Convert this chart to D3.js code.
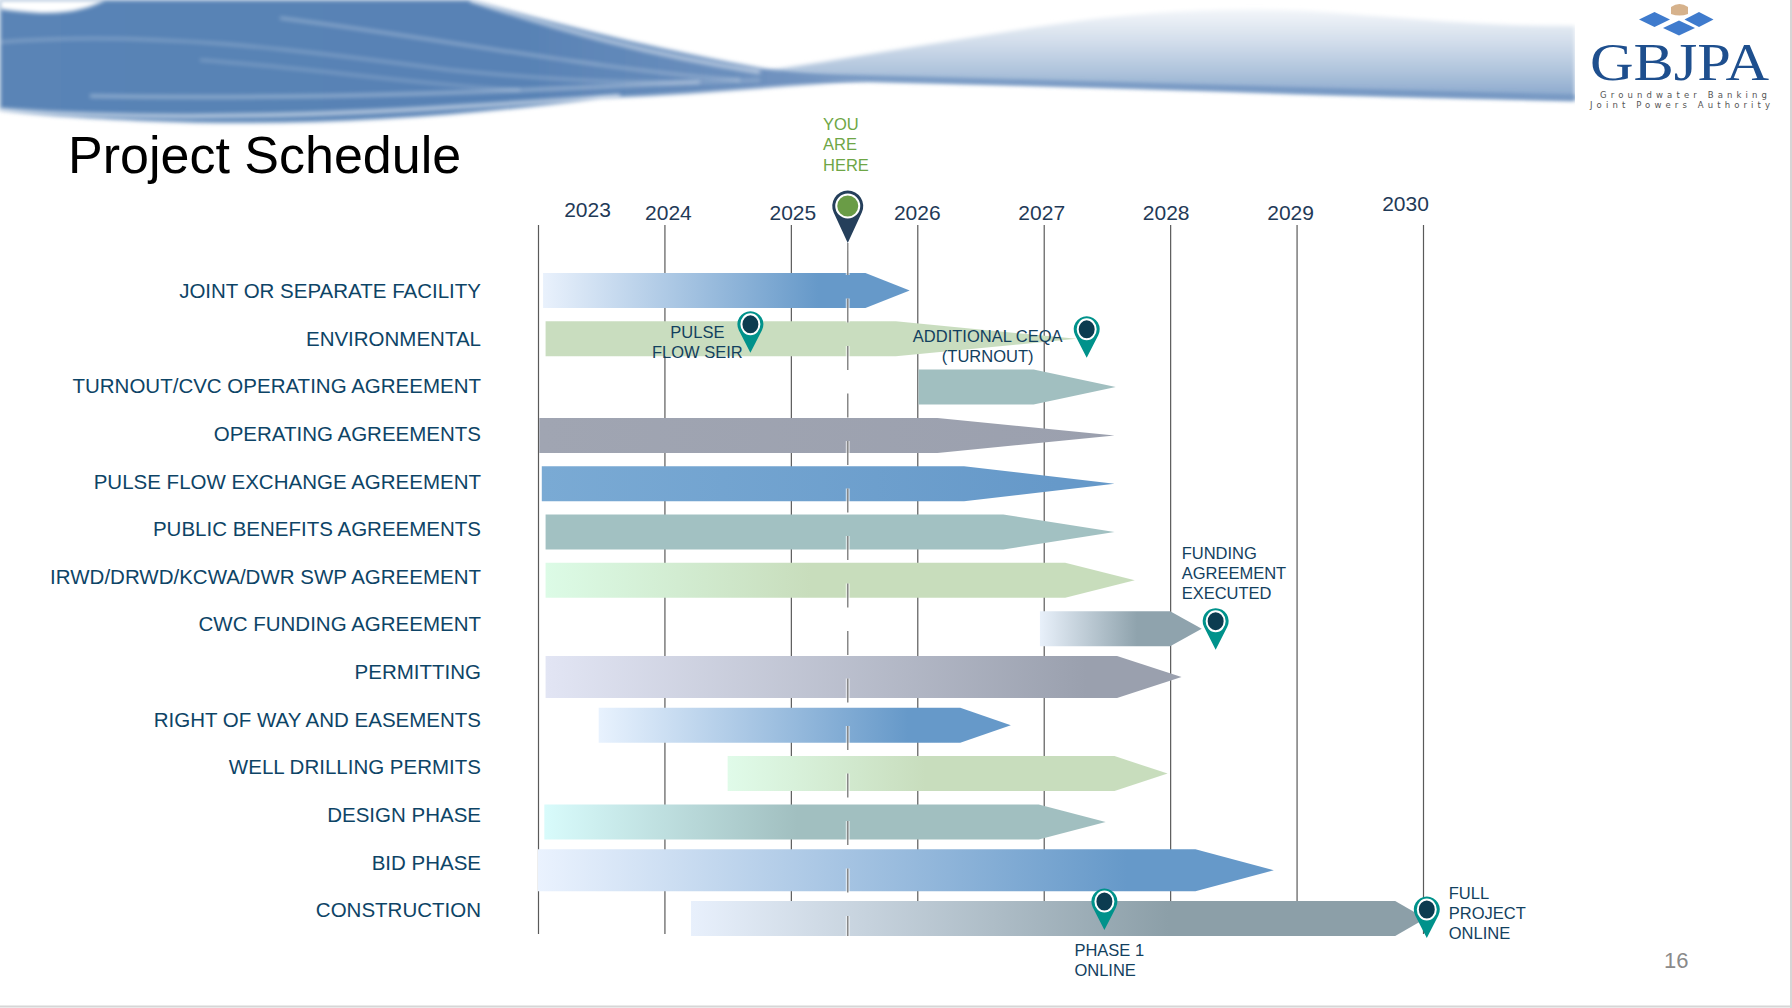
<!DOCTYPE html>
<html>
<head>
<meta charset="utf-8">
<script src="https://cdn.jsdelivr.net/npm/d3@7"></script>
<style>
  body { margin: 0; background: #fff; overflow: hidden; }
  svg { display: block; }
</style>
</head>
<body>
<div class="schedule"></div>
<script>
const width = 1792;
const height = 1008;

// ---- chart data (years) ----
const tasks = [
    "JOINT OR SEPARATE FACILITY", "ENVIRONMENTAL", "TURNOUT/CVC OPERATING AGREEMENT",
    "OPERATING AGREEMENTS", "PULSE FLOW EXCHANGE AGREEMENT", "PUBLIC BENEFITS AGREEMENTS",
    "IRWD/DRWD/KCWA/DWR SWP AGREEMENT", "CWC FUNDING AGREEMENT", "PERMITTING",
    "RIGHT OF WAY AND EASEMENTS", "WELL DRILLING PERMITS", "DESIGN PHASE", "BID PHASE", "CONSTRUCTION"
];
const startYear = [2023.04, 2023.06, 2026.01, 2023.01, 2023.03, 2023.06, 2023.06, 2026.97, 2023.06, 2023.48, 2024.50, 2023.05, 2023.00, 2024.21];
const taperYear = [2025.59, 2025.83, 2026.92, 2026.16, 2026.37, 2026.68, 2027.17, 2028.00, 2027.58, 2026.34, 2027.56, 2026.96, 2028.20, 2029.78];
const endYear   = [2025.94, 2027.26, 2027.57, 2027.56, 2027.56, 2027.56, 2027.72, 2028.25, 2028.09, 2026.74, 2027.98, 2027.49, 2028.82, 2030.02];
const years = [2023, 2024, 2025, 2026, 2027, 2028, 2029, 2030];
const todayYear = 2025.45;
const todayText = ["YOU", "ARE", "HERE"];
const milestoneText = [["PULSE", "FLOW SEIR"], ["ADDITIONAL CEQA", "(TURNOUT)"], ["FUNDING", "AGREEMENT", "EXECUTED"], ["PHASE 1", "ONLINE"], ["FULL", "PROJECT", "ONLINE"]];
const milestoneYear = [2024.68, 2027.34, 2028.36, 2027.48, 2030.03];
const milestoneTask = [1, 1, 7, 13, 13];

// ---- styles ----
const barFrom = ["#e9f1fc", "#c9ddbf", "#a1bfc0", "#a0a5b2", "#7aaad4", "#a2c1c2", "#dcfbe6", "#e8f0fa", "#e2e5f4", "#e8f2fe", "#e0fbe9", "#d8fbfb", "#eaf2fe", "#e8f0fc"];
const barTo   = ["#6699c9", "#c9ddbf", "#a1bfc0", "#9ba0ae", "#6699c9", "#a2c1c2", "#c8ddbc", "#8fa3ad", "#9aa0ae", "#6699c9", "#c8ddbd", "#a1bfc0", "#6699c9", "#8c9fa8"];
const barStop = [0.75, 1, 1, 1, 0.9, 1, 0.45, 0.6, 0.85, 0.75, 0.45, 0.45, 0.8, 0.65];
const pinNote = [
    { dx: -53, dy: -21, anchor: "middle", tip: 14 },
    { dx: -99, dy: -22, anchor: "middle", tip: 19 },
    { dx: -34, dy: -96, anchor: "start", tip: 21 },
    { dx: -30, dy: 20, anchor: "start", tip: 11.5 },
    { dx: 22, dy: -45, anchor: "start", tip: 19.5 }
];
const navy = "#0d4466";
const font = "Liberation Sans, Arial, sans-serif";

const svg = d3.select(".schedule")
    .append("svg")
    .attr("width", width)
    .attr("height", height);
const defs = svg.append("defs");

// ---- banner (water swoosh) ----
defs.append("filter").attr("id", "soft").attr("x", "-5%").attr("y", "-50%").attr("width", "110%").attr("height", "200%")
    .append("feGaussianBlur").attr("stdDeviation", 2);
const waveLeft = defs.append("linearGradient").attr("id", "waveLeft");
[[0, "#5a84b6"], [0.6, "#5882b5"], [1, "#7898c3"]]
    .forEach(s => waveLeft.append("stop").attr("offset", s[0]).attr("stop-color", s[1]));
const waveRight = defs.append("linearGradient").attr("id", "waveRight")
    .attr("x1", 0).attr("y1", 0).attr("x2", 0).attr("y2", 1);
[[0, "#f3f6fa"], [0.35, "#d3deeb"], [0.7, "#adc2db"], [1, "#86a5cb"]]
    .forEach(s => waveRight.append("stop").attr("offset", s[0]).attr("stop-color", s[1]));

const banner = svg.append("g");
banner.append("path")
    .attr("d", "M760,72 C850,58 950,40 1050,25 C1150,10 1250,5 1350,14 C1450,22 1500,26 1575,26 V100 C1450,98 1350,96 1250,92 C1100,86 950,82 760,80 Z")
    .attr("fill", "url(#waveRight)")
    .attr("filter", "url(#soft)");
banner.append("path")
    .attr("d", "M780,76 C950,80 1200,90 1575,98")
    .attr("fill", "none").attr("stroke", "#6f93c0").attr("stroke-width", 5)
    .attr("filter", "url(#soft)");
banner.append("path")
    .attr("d", "M0,0 H470 C560,25 660,50 760,68 C800,74 830,78 870,80 C780,86 700,94 600,98 C450,118 300,127 150,121 C80,118 30,114 0,110 Z")
    .attr("fill", "url(#waveLeft)")
    .attr("filter", "url(#soft)");
[
    ["M470,0 C560,30 650,55 760,72", 4, 0.55],
    ["M280,18 C450,40 600,70 740,80", 2, 0.45],
    ["M0,42 C150,30 300,50 450,70 C550,80 650,86 760,80", 2, 0.35],
    ["M90,96 C300,100 500,92 700,82", 3, 0.4],
    ["M0,110 C200,124 400,112 620,96", 4, 0.6],
    ["M200,60 C330,70 420,85 520,90", 2, 0.3]
].forEach(s => banner.append("path").attr("d", s[0]).attr("fill", "none")
    .attr("stroke", "#ffffff").attr("stroke-width", s[1]).attr("opacity", s[2]).attr("filter", "url(#soft)"));
banner.append("path")
    .attr("d", "M0,0 H105 C90,8 70,14 40,13 C20,12 8,10 0,9 Z")
    .attr("fill", "#ffffff").attr("filter", "url(#soft)");
banner.append("rect").attr("x", 1575).attr("y", 0).attr("width", 217).attr("height", 130).attr("fill", "#fff");

// ---- logo ----
const logo = svg.append("g");
[[1654.5, 19.5, 15.5, 7.5], [1699, 19.5, 14.5, 7.5], [1679, 28, 16, 7.5]].forEach(d => {
    logo.append("path")
        .attr("d", `M${d[0] - d[2]},${d[1]} L${d[0]},${d[1] - d[3]} L${d[0] + d[2]},${d[1]} L${d[0]},${d[1] + d[3]} Z`)
        .attr("fill", "#3f7bcd");
});
logo.append("path")
    .attr("d", "M1671,7 Q1679.5,1 1688,7 V14 Q1679.5,17 1671,14 Z")
    .attr("fill", "#d6b28c");
logo.append("text")
    .attr("x", 1590).attr("y", 80)
    .attr("textLength", 179).attr("lengthAdjust", "spacingAndGlyphs")
    .attr("font-family", "Liberation Serif, DejaVu Serif, serif")
    .attr("font-size", 52)
    .attr("fill", "#1e4f8e")
    .text("GBJPA");
logo.append("text")
    .attr("x", 1600).attr("y", 98).attr("textLength", 167).attr("lengthAdjust", "spacing")
    .attr("font-family", "DejaVu Sans, sans-serif").attr("font-size", 8.5).attr("fill", "#555")
    .text("Groundwater Banking");
logo.append("text")
    .attr("x", 1590).attr("y", 108).attr("textLength", 180).attr("lengthAdjust", "spacing")
    .attr("font-family", "DejaVu Sans, sans-serif").attr("font-size", 8.5).attr("fill", "#555")
    .text("Joint Powers Authority");

// ---- title ----
svg.append("text")
    .attr("x", 68).attr("y", 173)
    .attr("font-family", font)
    .attr("font-size", 52)
    .attr("fill", "#000")
    .text("Project Schedule");

// ---- scales ----
const x = d3.scaleLinear().domain([2023, 2030]).range([538, 1423]);
const yLabel = d3.scalePoint().domain(tasks).range([291, 910]);
const yBar = d3.scalePoint().domain(tasks).range([290.5, 918.5]);
const barH = name => (name === "PERMITTING" || name === "BID PHASE") ? 42 : 35;

// ---- year axis with long grid lines ----
const axis = svg.append("g")
    .attr("transform", "translate(0,225)")
    .call(d3.axisTop(x)
        .tickValues(years)
        .tickFormat(d3.format("d"))
        .tickSize(-(934 - 225))
        .tickPadding(5.5));
axis.select(".domain").remove();
axis.selectAll(".tick line").attr("stroke", "#5a5a5a").attr("stroke-width", 1.2);
axis.selectAll(".tick text")
    .attr("font-family", font)
    .attr("font-size", 21)
    .attr("fill", "#1f3a57")
    .attr("dx", d => d === 2023 ? 49 : d === 2030 ? -18 : (2026.5 - d) * 2 - 1.5)
    .attr("dy", d => d === 2030 ? -9 : d === 2023 ? -3 : 0);

// ---- task labels ----
svg.append("g")
    .selectAll(".label")
    .data(tasks)
    .enter()
    .append("text")
    .attr("class", "label")
    .attr("x", 481)
    .attr("y", d => yLabel(d))
    .attr("dy", "0.35em")
    .attr("text-anchor", "end")
    .attr("font-family", font)
    .attr("font-size", 20.5)
    .attr("fill", navy)
    .text(d => d);

// ---- arrow bars ----
tasks.forEach((t, i) => {
    const g = defs.append("linearGradient").attr("id", "bar" + i);
    g.append("stop").attr("offset", 0).attr("stop-color", barFrom[i]);
    g.append("stop").attr("offset", barStop[i]).attr("stop-color", barTo[i]);
    g.append("stop").attr("offset", 1).attr("stop-color", barTo[i]);
});

svg.append("g")
    .selectAll(".bar")
    .data(tasks)
    .enter()
    .append("path")
    .attr("class", "bar")
    .attr("d", (d, i) => {
        const y0 = yBar(d) - barH(d) / 2, y1 = yBar(d) + barH(d) / 2;
        return `M${x(startYear[i])},${y0} L${x(taperYear[i])},${y0} L${x(endYear[i])},${yBar(d)} L${x(taperYear[i])},${y1} L${x(startYear[i])},${y1} Z`;
    })
    .attr("fill", (d, i) => `url(#bar${i})`);

// ---- "you are here" ----
const tx = x(todayYear);
svg.append("line")
    .attr("x1", tx).attr("x2", tx).attr("y1", 243).attr("y2", 251)
    .attr("stroke", "#8c8c8c").attr("stroke-width", 1.5);
svg.append("line")
    .attr("x1", tx).attr("x2", tx).attr("y1", 251).attr("y2", 936)
    .attr("stroke", "#ffffff").attr("stroke-opacity", 0.6).attr("stroke-width", 4)
    .attr("stroke-dasharray", "24 23.5");
svg.append("line")
    .attr("x1", tx).attr("x2", tx).attr("y1", 251).attr("y2", 936)
    .attr("stroke", "#888888").attr("stroke-width", 1.5)
    .attr("stroke-dasharray", "24 23.5");

function pinPath(r, dist) {
    const px = r * Math.sqrt(1 - (r / dist) * (r / dist));
    const py = -dist + r * r / dist;
    return `M0,0 L${-px},${py} A${r},${r} 0 1 1 ${px},${py} Z`;
}

const here = svg.append("g").attr("transform", `translate(${tx},243)`);
here.append("path").attr("d", pinPath(15.5, 37)).attr("fill", "#253f5b");
here.append("circle").attr("cx", 0).attr("cy", -37).attr("r", 11.5)
    .attr("fill", "#6a9c46").attr("stroke", "#ffffff").attr("stroke-width", 2);

svg.append("g")
    .selectAll(".here")
    .data(todayText)
    .enter()
    .append("text")
    .attr("x", 823)
    .attr("y", (d, i) => 124 + i * 20.5)
    .attr("dy", "0.35em")
    .attr("font-family", font)
    .attr("font-size", 16.5)
    .attr("fill", "#6ea646")
    .text(d => d);

// ---- milestones ----
milestoneText.forEach((lines, i) => {
    const mx = x(milestoneYear[i]);
    const my = yBar(tasks[milestoneTask[i]]) + pinNote[i].tip;
    const pin = svg.append("g").attr("transform", `translate(${mx},${my})`);
    pin.append("path").attr("d", pinPath(13, 28.5)).attr("fill", "#00928b");
    pin.append("ellipse").attr("cx", 0).attr("cy", -28.5).attr("rx", 9).attr("ry", 10)
        .attr("fill", "#0c3c50").attr("stroke", "#ffffff").attr("stroke-width", 2);

    svg.append("g")
        .selectAll("text")
        .data(lines)
        .enter()
        .append("text")
        .attr("x", mx + pinNote[i].dx)
        .attr("y", (d, j) => my + pinNote[i].dy + j * 20)
        .attr("dy", "0.35em")
        .attr("text-anchor", pinNote[i].anchor)
        .attr("font-family", font)
        .attr("font-size", 16.5)
        .attr("fill", "#12405e")
        .text(d => d);
});

// ---- slide number and border ----
svg.append("text")
    .attr("x", 1664).attr("y", 968)
    .attr("font-family", font)
    .attr("font-size", 22)
    .attr("fill", "#8a8a8a")
    .text("16");
svg.append("line").attr("x1", 1791).attr("x2", 1791).attr("y1", 0).attr("y2", height)
    .attr("stroke", "#d6d6d6").attr("stroke-width", 2);
svg.append("line").attr("x1", 0).attr("x2", width).attr("y1", 1006.5).attr("y2", 1006.5)
    .attr("stroke", "#d6d6d6").attr("stroke-width", 2);
</script>
</body>
</html>
